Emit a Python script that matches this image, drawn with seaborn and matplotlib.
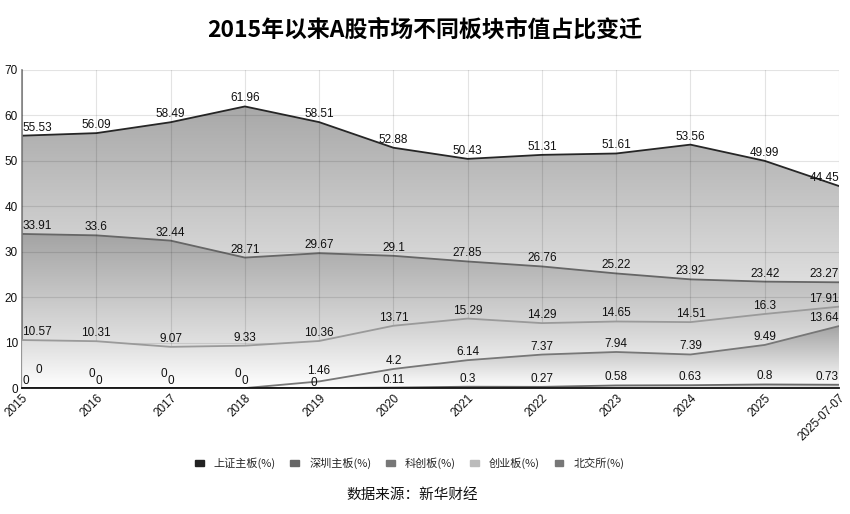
import numpy as np
import pandas as pd
import matplotlib.pyplot as plt
import seaborn as sns
from matplotlib.patches import Patch

# data
periods = ['2015', '2016', '2017', '2018', '2019', '2020', '2021', '2022',
           '2023', '2024', '2025', '2025-07-07']
sh_main = [55.53, 56.09, 58.49, 61.96, 58.51, 52.88, 50.43, 51.31, 51.61, 53.56, 49.99, 44.45]
sz_main = [33.91, 33.6, 32.44, 28.71, 29.67, 29.1, 27.85, 26.76, 25.22, 23.92, 23.42, 23.27]
star = [0, 0, 0, 0, 1.46, 4.2, 6.14, 7.37, 7.94, 7.39, 9.49, 13.64]
chinext = [10.57, 10.31, 9.07, 9.33, 10.36, 13.71, 15.29, 14.29, 14.65, 14.51, 16.3, 17.91]
bse = [0, 0, 0, 0, 0, 0.11, 0.3, 0.27, 0.58, 0.63, 0.8, 0.73]

names = ['上证主板(%)', '深圳主板(%)', '科创板(%)', '创业板(%)', '北交所(%)']

sns.set_theme(style='white')
plt.rcParams['font.family'] = ['Liberation Sans', 'Noto Sans CJK SC', 'DejaVu Sans']
cjk = ['Noto Sans CJK SC', 'DejaVu Sans']

fig = plt.figure(figsize=(8.5, 5.14), dpi=100)
ax = fig.add_axes([0.026, 0.245, 0.961, 0.619])

x = np.arange(len(periods))

# (name, values, line colour, gradient top grey, gradient bottom grey, zorder)
series = [
    (names[0], sh_main, '#262626', 0.66, 1.0, 1),
    (names[1], sz_main, '#666666', 0.64, 0.98, 2),
    (names[3], chinext, '#9a9a9a', 0.77, 1.0, 3),
    (names[2], star, '#777777', 0.64, 1.0, 4),
    (names[4], bse, '#6a6a6a', 0.70, 1.0, 5),
]

for name, vals, lc, gtop, gbot, z in series:
    vals = np.array(vals, dtype=float)
    poly = ax.fill_between(x, vals, 0, facecolor='none', edgecolor='none')
    ymax = max(vals.max(), 0.5)
    grad = np.linspace(gtop, gbot, 256).reshape(-1, 1)
    img = np.dstack([grad, grad, grad])
    im = ax.imshow(img, extent=[x[0], x[-1], 0, ymax], origin='upper',
                   aspect='auto', zorder=z, interpolation='bilinear')
    im.set_clip_path(poly.get_paths()[0], transform=ax.transData)
    df = pd.DataFrame({'x': x, 'y': vals})
    sns.lineplot(data=df, x='x', y='y', ax=ax, color=lc, lw=1.3, zorder=z + 0.5)

# value labels
zero_off = {
    ('star', 0): (13, 12), ('star', 1): (-5, 8), ('star', 2): (-7, 8), ('star', 3): (-7, 8),
    ('star', 4): (-1, 4),
    ('bse', 0): (0, 1), ('bse', 1): (2, 1), ('bse', 2): (0, 1), ('bse', 3): (0, 1), ('bse', 4): (-5, -1),
}
label_sets = [('sh', sh_main), ('sz', sz_main), ('chinext', chinext), ('star', star), ('bse', bse)]
for key, vals in label_sets:
    for i, v in enumerate(vals):
        ha = 'center'
        if i == 0:
            ha = 'left'
        elif i == len(vals) - 1:
            ha = 'right'
        dx, dy = zero_off.get((key, i), (0, 2))
        ax.annotate(f'{v:g}', (x[i], v), xytext=(dx, dy), textcoords='offset pixels',
                    ha=ha, va='bottom', fontsize=8.5, color='#111111', zorder=10)

ax.set_xlim(0, len(periods) - 1)
ax.set_ylim(0, 70)
ax.set_yticks(range(0, 71, 10))
ax.set_xticks(x)
ax.set_xticklabels(periods, rotation=45, ha='right', rotation_mode='anchor')
ax.tick_params(axis='both', labelsize=8.5, length=0, pad=3, colors='#111111')
ax.set_xlabel('')
ax.set_ylabel('')
ax.grid(True, color='black', alpha=0.11, lw=0.8, zorder=8)
ax.set_axisbelow(False)
for s in ['top', 'right']:
    ax.spines[s].set_visible(False)
ax.spines['left'].set_color('#888888')
ax.spines['bottom'].set_color('#111111')
ax.spines['bottom'].set_linewidth(1.3)
ax.spines['bottom'].set_zorder(9)

fig.text(0.499, 0.942, '2015年以来A股市场不同板块市值占比变迁', ha='center', va='center',
         fontsize=16.5, fontweight='heavy', family=cjk, color='black')

handle_colors = ['#222222', '#666666', '#777777', '#bbbbbb', '#777777']
handles = [Patch(facecolor=c, edgecolor=c) for c in handle_colors]
fig.legend(handles, names, loc='center', bbox_to_anchor=(0.482, 0.099), ncol=5,
           frameon=False, handlelength=0.8, handleheight=0.45,
           handletextpad=0.9, columnspacing=1.3,
           prop={'family': cjk, 'size': 8})

fig.text(0.485, 0.037, '数据来源：新华财经', ha='center', va='center', fontsize=10.5,
         family=cjk, color='#111111')

fig.savefig('out.png', dpi=100)
